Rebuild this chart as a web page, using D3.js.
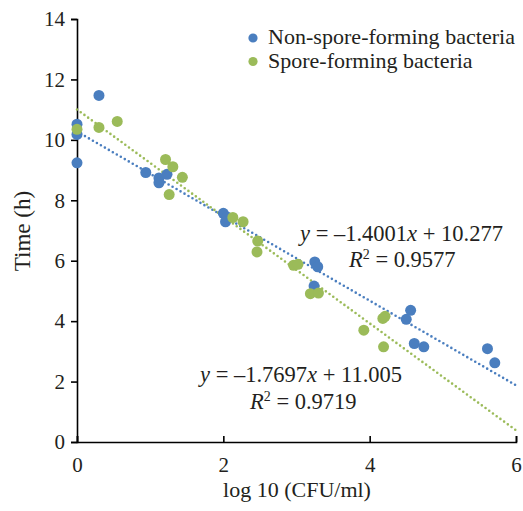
<!DOCTYPE html>
<html>
<head>
<meta charset="utf-8">
<script src="https://cdn.jsdelivr.net/npm/d3@7"></script>
<style>
  body { margin: 0; background: #fff; }
  svg text { font-family: "Liberation Serif", "DejaVu Serif", serif; fill: #231f20; }
</style>
</head>
<body>
<div id="content"></div>
<script>
// data: log10 (CFU/ml) vs time (h)
const nonSporeX = [0, 0, 0, 0.30, 0.94, 1.12, 1.12, 1.23, 2.00, 2.05, 2.03, 3.25, 3.29, 3.24, 4.56, 4.50, 4.61, 4.74, 5.61, 5.71];
const nonSporeY = [10.52, 10.18, 9.24, 11.47, 8.92, 8.74, 8.58, 8.86, 7.57, 7.45, 7.29, 5.96, 5.80, 5.16, 4.36, 4.06, 3.26, 3.15, 3.09, 2.62];
const sporeX = [0, 0.30, 0.55, 1.21, 1.31, 1.44, 1.26, 2.13, 2.27, 2.47, 2.46, 2.96, 3.02, 3.19, 3.30, 4.18, 4.21, 3.92, 4.19];
const sporeY = [10.35, 10.41, 10.61, 9.35, 9.11, 8.76, 8.19, 7.43, 7.29, 6.65, 6.29, 5.85, 5.88, 4.91, 4.93, 4.09, 4.16, 3.70, 3.15];

const seriesNames = ["Non-spore-forming bacteria", "Spore-forming bacteria"];
const seriesColors = ["#4a7ebf", "#9bbb59"];
// trendline coefficients from the chart
const slopes = [-1.4001, -1.7697];
const intercepts = [10.277, 11.005];
const rSquared = ["0.9577", "0.9719"];

const xTicks = [0, 2, 4, 6];
const yTicks = [0, 2, 4, 6, 8, 10, 12, 14];

const width = 523, height = 511;
const margin = { left: 77, right: 7, top: 19, bottom: 69 };

const svg = d3.select("#content").append("svg")
    .attr("width", width).attr("height", height);

const x = d3.scaleLinear().domain([0, 6]).range([margin.left, width - margin.right]);
const y = d3.scaleLinear().domain([0, 14]).range([height - margin.bottom, margin.top]);

// axes
const xAxis = svg.append("g")
    .attr("transform", `translate(0,${y(0)})`)
    .call(d3.axisBottom(x).tickValues(xTicks).tickSize(-6).tickPadding(15).tickFormat(d3.format("d")));
const yAxis = svg.append("g")
    .attr("transform", `translate(${x(0)},0)`)
    .call(d3.axisLeft(y).tickValues(yTicks).tickSize(6).tickPadding(6).tickFormat(d3.format("d")));

[xAxis, yAxis].forEach(g => {
    g.select(".domain").attr("stroke", "#000").attr("stroke-width", 1.6);
    g.selectAll(".tick line").attr("stroke", "#000").attr("stroke-width", 1.6);
    g.selectAll(".tick text").attr("font-size", 21).attr("font-family", "Liberation Serif").attr("fill", "#231f20");
});
xAxis.selectAll(".tick text").attr("dy", "0.71em");

// trendlines
const line = d3.line().x(d => x(d[0])).y(d => y(d[1]));
slopes.forEach((m, i) => {
    svg.append("path")
        .datum([[0, intercepts[i]], [6, intercepts[i] + m * 6]])
        .attr("d", line)
        .attr("fill", "none")
        .attr("stroke", seriesColors[i])
        .attr("stroke-width", 2.6)
        .attr("stroke-linecap", "round")
        .attr("stroke-dasharray", "0,4.6");
});

// points
const series = [
    d3.zip(nonSporeX, nonSporeY),
    d3.zip(sporeX, sporeY)
];
series.forEach((pts, i) => {
    svg.append("g").selectAll("circle")
        .data(pts)
        .enter()
        .append("circle")
        .attr("cx", d => x(d[0]))
        .attr("cy", d => y(d[1]))
        .attr("r", 5.5)
        .attr("fill", seriesColors[i]);
});

// legend
const legend = svg.append("g");
seriesNames.forEach((name, i) => {
    legend.append("circle")
        .attr("cx", 253).attr("cy", 38 + i * 23.5)
        .attr("r", 4.6).attr("fill", seriesColors[i]);
    legend.append("text")
        .attr("x", 268).attr("y", 44 + i * 23.5)
        .attr("font-size", 22)
        .attr("textLength", i === 0 ? 247 : null)
        .text(name);
});

// equations
function equation(xPos, yPos, i) {
    const t = svg.append("text").attr("x", xPos).attr("y", yPos).attr("font-size", 22.5);
    t.append("tspan").attr("font-style", "italic").text("y");
    t.append("tspan").text(" = \u2013" + Math.abs(slopes[i]).toFixed(4));
    t.append("tspan").attr("font-style", "italic").text("x");
    t.append("tspan").text(" + " + intercepts[i].toFixed(3));
}
function rsq(xPos, yPos, i) {
    const t = svg.append("text").attr("x", xPos).attr("y", yPos).attr("font-size", 22.5);
    t.append("tspan").attr("font-style", "italic").text("R");
    t.append("tspan").attr("font-size", 14).attr("dy", -8).text("2");
    t.append("tspan").attr("dy", 8).text(" = " + rSquared[i]);
}
equation(300, 241, 0);
rsq(349, 267, 0);
equation(200, 382, 1);
rsq(250, 409, 1);

// axis titles
svg.append("text")
    .attr("x", 297).attr("y", 497)
    .attr("text-anchor", "middle").attr("font-size", 22)
    .text("log 10 (CFU/ml)");
svg.append("text")
    .attr("transform", `translate(30,231) rotate(-90)`)
    .attr("text-anchor", "middle").attr("font-size", 23)
    .text("Time (h)");
</script>
</body>
</html>
